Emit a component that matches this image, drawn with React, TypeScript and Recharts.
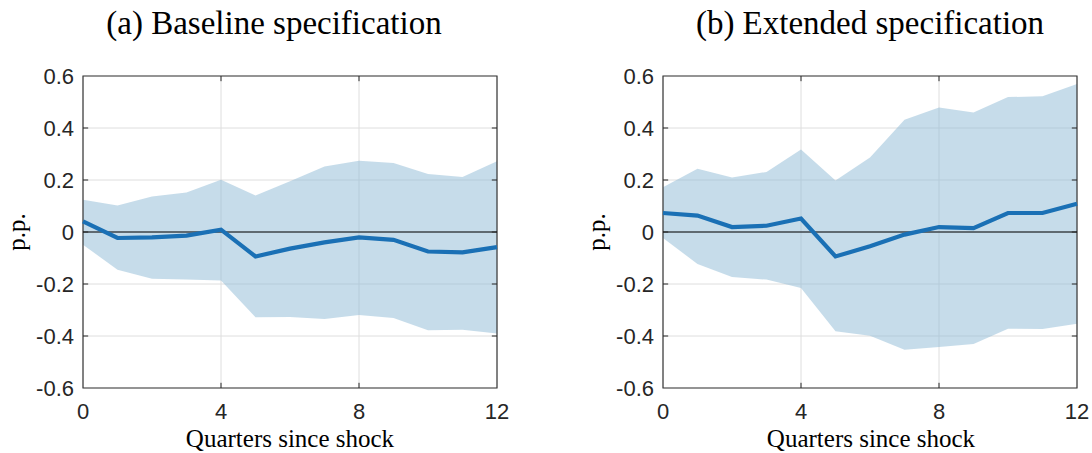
import React from "react";
import {
  Area,
  CartesianGrid,
  ComposedChart,
  Line,
  ReferenceArea,
  ReferenceLine,
  XAxis,
  YAxis,
} from "recharts";

const quarters = [0, 1, 2, 3, 4, 5, 6, 7, 8, 9, 10, 11, 12];

const baselineIrf = [0.041, -0.023, -0.021, -0.014, 0.009, -0.094, -0.064, -0.04, -0.021, -0.03, -0.075, -0.078, -0.058];
const baselineHi = [0.124, 0.102, 0.137, 0.152, 0.201, 0.14, 0.195, 0.252, 0.274, 0.265, 0.223, 0.212, 0.272];
const baselineLo = [-0.049, -0.145, -0.18, -0.183, -0.187, -0.328, -0.327, -0.335, -0.319, -0.331, -0.378, -0.376, -0.39];

const extendedIrf = [0.073, 0.063, 0.019, 0.024, 0.052, -0.094, -0.055, -0.01, 0.019, 0.015, 0.073, 0.073, 0.109];
const extendedHi = [0.172, 0.243, 0.21, 0.231, 0.317, 0.198, 0.287, 0.432, 0.479, 0.46, 0.519, 0.522, 0.569];
const extendedLo = [-0.023, -0.123, -0.173, -0.183, -0.215, -0.382, -0.399, -0.453, -0.442, -0.431, -0.372, -0.373, -0.353];

const xTicks = [0, 4, 8, 12];
const yTicks = [-0.6, -0.4, -0.2, 0, 0.2, 0.4, 0.6];

const titles = ["(a) Baseline specification", "(b) Extended specification"];
const xLabel = "Quarters since shock";
const yLabel = "p.p.";

const AXIS = "#262626";
const BLUE = "#1a70b5";
const SANS = "'Liberation Sans', Arial, sans-serif";
const SERIF = "'Liberation Serif', 'Times New Roman', serif";
const TICK_SIZE = 22;

function buildRows(irf: number[], lo: number[], hi: number[]) {
  return quarters.map((q, i) => ({ q, irf: irf[i], band: [lo[i], hi[i]] }));
}

const fmtY = (v: number) => (v === 0 ? "0" : v.toFixed(1));

const XTick = (props: any) => {
  const { x, y, payload } = props;
  return (
    <text x={x} y={y + 30} textAnchor="middle" fill={AXIS} fontSize={TICK_SIZE} fontFamily={SANS}>
      {payload.value}
    </text>
  );
};

const YTick = (props: any) => {
  const { x, y, payload } = props;
  return (
    <text x={x} y={y + 7.5} textAnchor="end" fill={AXIS} fontSize={TICK_SIZE} fontFamily={SANS}>
      {fmtY(payload.value)}
    </text>
  );
};

type PanelProps = {
  irf: number[];
  lo: number[];
  hi: number[];
  left: number;
  yAxisWidth: number;
  rightMargin: number;
};

const Panel = ({ irf, lo, hi, left, yAxisWidth, rightMargin }: PanelProps) => {
  const rows = buildRows(irf, lo, hi);
  return (
    <div style={{ position: "absolute", left, top: 0 }}>
      <ComposedChart
        width={546}
        height={453}
        data={rows}
        margin={{ top: 76, right: rightMargin, bottom: 35, left: 0 }}
      >
        <CartesianGrid stroke="#dedede" strokeWidth={1} />
        <XAxis
          dataKey="q"
          type="number"
          domain={[0, 12]}
          ticks={xTicks}
          height={30}
          tickLine={false}
          axisLine={false}
          tickSize={0}
          tickMargin={1}
          tick={<XTick />}
        />
        <YAxis
          type="number"
          domain={[-0.6, 0.6]}
          ticks={yTicks}
          width={yAxisWidth}
          tickLine={false}
          axisLine={false}
          tickSize={0}
          tickMargin={9}
          tick={<YTick />}
        />
        <Area
          dataKey="band"
          type="linear"
          stroke="none"
          fill="#8db9d5"
          fillOpacity={0.5}
          isAnimationActive={false}
        />
        <ReferenceLine y={0} stroke="#000" strokeWidth={1} />
        {yTicks.slice(1, -1).map((t) => (
          <ReferenceLine
            key={"l" + t}
            segment={[{ x: 0, y: t }, { x: 0.15, y: t }]}
            stroke={AXIS}
          />
        ))}
        {yTicks.slice(1, -1).map((t) => (
          <ReferenceLine
            key={"r" + t}
            segment={[{ x: 11.85, y: t }, { x: 12, y: t }]}
            stroke={AXIS}
          />
        ))}
        {xTicks.slice(1, -1).map((t) => (
          <ReferenceLine
            key={"b" + t}
            segment={[{ x: t, y: -0.6 }, { x: t, y: -0.58 }]}
            stroke={AXIS}
          />
        ))}
        {xTicks.slice(1, -1).map((t) => (
          <ReferenceLine
            key={"t" + t}
            segment={[{ x: t, y: 0.58 }, { x: t, y: 0.6 }]}
            stroke={AXIS}
          />
        ))}
        <ReferenceArea
          x1={0}
          x2={12}
          y1={-0.6}
          y2={0.6}
          fill="none"
          fillOpacity={0}
          stroke="#3a3a3a"
          strokeWidth={1.2}
        />
        <Line
          dataKey="irf"
          type="linear"
          stroke={BLUE}
          strokeWidth={4.2}
          dot={false}
          isAnimationActive={false}
        />
      </ComposedChart>
    </div>
  );
};

export default function App() {
  return (
    <div
      style={{
        position: "absolute",
        left: 0,
        top: 0,
        width: 1092,
        height: 453,
        background: "#fff",
        overflow: "hidden",
      }}
    >
      <Panel irf={baselineIrf} lo={baselineLo} hi={baselineHi} left={0} yAxisWidth={83} rightMargin={49} />
      <Panel irf={extendedIrf} lo={extendedLo} hi={extendedHi} left={546} yAxisWidth={117} rightMargin={15} />
      <svg
        width={1092}
        height={453}
        style={{ position: "absolute", left: 0, top: 0, pointerEvents: "none" }}
      >
        <text x={274} y={34} textAnchor="middle" fontFamily={SERIF} fontSize={33} fill="#000">
          {titles[0]}
        </text>
        <text x={870} y={34} textAnchor="middle" fontFamily={SERIF} fontSize={33} fill="#000">
          {titles[1]}
        </text>
        <text x={290} y={446.5} textAnchor="middle" fontFamily={SERIF} fontSize={25} fill="#000">
          {xLabel}
        </text>
        <text x={871} y={446.5} textAnchor="middle" fontFamily={SERIF} fontSize={25} fill="#000">
          {xLabel}
        </text>
        <text
          x={25}
          y={232}
          textAnchor="middle"
          fontFamily={SERIF}
          fontSize={25}
          fill="#000"
          transform="rotate(-90 25 232)"
        >
          {yLabel}
        </text>
        <text
          x={605}
          y={232}
          textAnchor="middle"
          fontFamily={SERIF}
          fontSize={25}
          fill="#000"
          transform="rotate(-90 605 232)"
        >
          {yLabel}
        </text>
      </svg>
    </div>
  );
}
